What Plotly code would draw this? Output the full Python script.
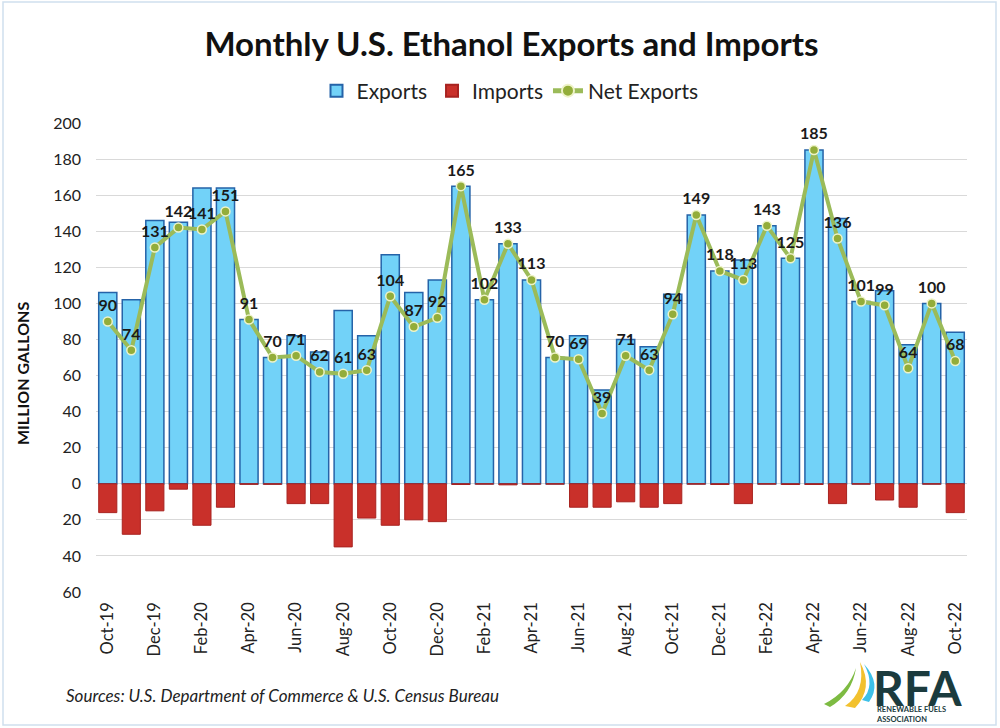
import plotly.graph_objects as go

months = ["Oct-19","Nov-19","Dec-19","Jan-20","Feb-20","Mar-20","Apr-20","May-20","Jun-20","Jul-20",
          "Aug-20","Sep-20","Oct-20","Nov-20","Dec-20","Jan-21","Feb-21","Mar-21","Apr-21","May-21",
          "Jun-21","Jul-21","Aug-21","Sep-21","Oct-21","Nov-21","Dec-21","Jan-22","Feb-22","Mar-22",
          "Apr-22","May-22","Jun-22","Jul-22","Aug-22","Sep-22","Oct-22"]
exports = [106, 102, 146, 145, 164, 164, 91, 70, 82, 73,
           96, 82, 127, 106, 113, 165, 102, 133, 113, 70,
           82, 52, 80, 76, 105, 149, 118, 124, 143, 125,
           185, 147, 101, 107, 77, 100, 84]
imports = [16, 28, 15, 3, 23, 13, 0.3, 0.3, 11, 11,
           35, 19, 23, 20, 21, 0.4, 0.2, 0.6, 0.2, 0.2,
           13, 13, 10, 13, 11, 0.2, 0.4, 11, 0.2, 0.4,
           0.4, 11, 0.2, 9, 13, 0.2, 16]
net_exports = [90, 74, 131, 142, 141, 151, 91, 70, 71, 62,
               61, 63, 104, 87, 92, 165, 102, 133, 113, 70,
               69, 39, 71, 63, 94, 149, 118, 113, 143, 125,
               185, 136, 101, 99, 64, 100, 68]
y_ticks = [-60, -40, -20, 0, 20, 40, 60, 80, 100, 120, 140, 160, 180, 200]
tick_months = months[::2]

FONT = "Lato"

fig = go.Figure()
fig.add_trace(go.Bar(
    x=months, y=exports, name="Exports",
    marker=dict(color="#72d2f8", line=dict(color="#2563a8", width=1.5)),
))
fig.add_trace(go.Bar(
    x=months, y=[-v for v in imports], name="Imports",
    marker=dict(color="#c9302a", line=dict(color="#a82320", width=1)),
))
fig.add_trace(go.Scatter(
    x=months, y=net_exports, name="Net Exports", mode="lines+markers+text",
    line=dict(color="#9bbb59", width=4),
    marker=dict(size=9, color="#93ad3a", line=dict(color="#eef3c8", width=1.5)),
    text=[str(v) for v in net_exports], textposition="top center",
    textfont=dict(family=FONT, size=16, color="#1a1a1a", weight="bold"),
    cliponaxis=False,
))

# plot area pixel geometry helpers (for decoration only)
L, R, T, B = 96, 967, 123, 592
def px(x):
    return (x - L) / (R - L)
def py(y):
    return (B - y) / (B - T)

shapes = [
    dict(type="rect", xref="paper", yref="paper", x0=px(3), x1=px(996), y0=py(725), y1=py(2),
         line=dict(color="#cfe0ee", width=1.5), fillcolor="rgba(0,0,0,0)", layer="below"),
    # logo leaves
    dict(type="path", xref="paper", yref="paper",
         path=f"M {px(824)},{py(704)} Q {px(848)},{py(692)} {px(856)},{py(668)} Q {px(852)},{py(694)} {px(830)},{py(707)} Z",
         fillcolor="#7dbb42", line=dict(width=0)),
    dict(type="path", xref="paper", yref="paper",
         path=f"M {px(845)},{py(706)} Q {px(866)},{py(692)} {px(860)},{py(662)} Q {px(874)},{py(688)} {px(855)},{py(708)} Z",
         fillcolor="#f2c12e", line=dict(width=0)),
    dict(type="path", xref="paper", yref="paper",
         path=f"M {px(862)},{py(700)} Q {px(876)},{py(686)} {px(864)},{py(664)} Q {px(882)},{py(684)} {px(869)},{py(702)} Z",
         fillcolor="#3ec0e8", line=dict(width=0)),
]

annotations = [
    dict(text="Sources: U.S. Department of Commerce & U.S. Census Bureau",
         xref="paper", yref="paper", x=px(64), y=py(695), xanchor="left", yanchor="middle",
         showarrow=False, font=dict(family=FONT, size=17, color="#222", style="italic")),
    dict(text="RFA", xref="paper", yref="paper", x=px(871), y=py(687), xanchor="left", yanchor="middle",
         showarrow=False, font=dict(family=FONT, size=48, color="#1b3b3e", weight="bold")),
    dict(text="RENEWABLE FUELS<br>ASSOCIATION", xref="paper", yref="paper", x=px(874), y=py(703),
         xanchor="left", yanchor="top", align="left", showarrow=False,
         font=dict(family=FONT, size=7.5, color="#1b3b3e", weight="bold")),
    dict(text="MILLION GALLONS", xref="paper", yref="paper", x=px(22), y=py(374),
         xanchor="center", yanchor="middle", textangle=-90, showarrow=False,
         font=dict(family=FONT, size=16, color="#111", weight="bold")),
]

fig.update_layout(
    width=1000, height=728,
    margin=dict(l=L, r=1000 - R, t=T, b=728 - B, autoexpand=False),
    paper_bgcolor="white", plot_bgcolor="white",
    barmode="relative", bargap=0.23,
    title=dict(text="Monthly U.S. Ethanol Exports and Imports", x=0.5115, xanchor="center",
               xref="container", y=1 - 44 / 728, yanchor="middle",
               font=dict(family=FONT, size=33, color="#111", weight="bold")),
    legend=dict(orientation="h", x=0.51, xanchor="center", xref="container",
                y=1 - 91 / 728, yref="container", yanchor="middle",
                font=dict(family=FONT, size=21, color="#222"),
                itemsizing="constant", traceorder="normal"),
    showlegend=True,
    font=dict(family=FONT),
    shapes=shapes, annotations=annotations,
)
fig.update_xaxes(
    type="category", range=[-0.5, len(months) - 0.5],
    tickmode="array", tickvals=tick_months, ticktext=tick_months,
    tickangle=-90, tickfont=dict(family=FONT, size=16.5, color="#222"),
    showgrid=False, showline=False, ticks="", automargin=False, ticklabelstandoff=6,
)
fig.update_yaxes(
    range=[-60, 200], tickmode="array", tickvals=y_ticks,
    ticktext=[str(abs(v)) for v in y_ticks],
    tickfont=dict(family=FONT, size=16, color="#222"),
    showgrid=True, gridcolor="#d9d9d9", gridwidth=1, zeroline=False, showline=False,
    ticks="", ticklabelstandoff=14, automargin=False,
)

fig.write_html("out.html")
